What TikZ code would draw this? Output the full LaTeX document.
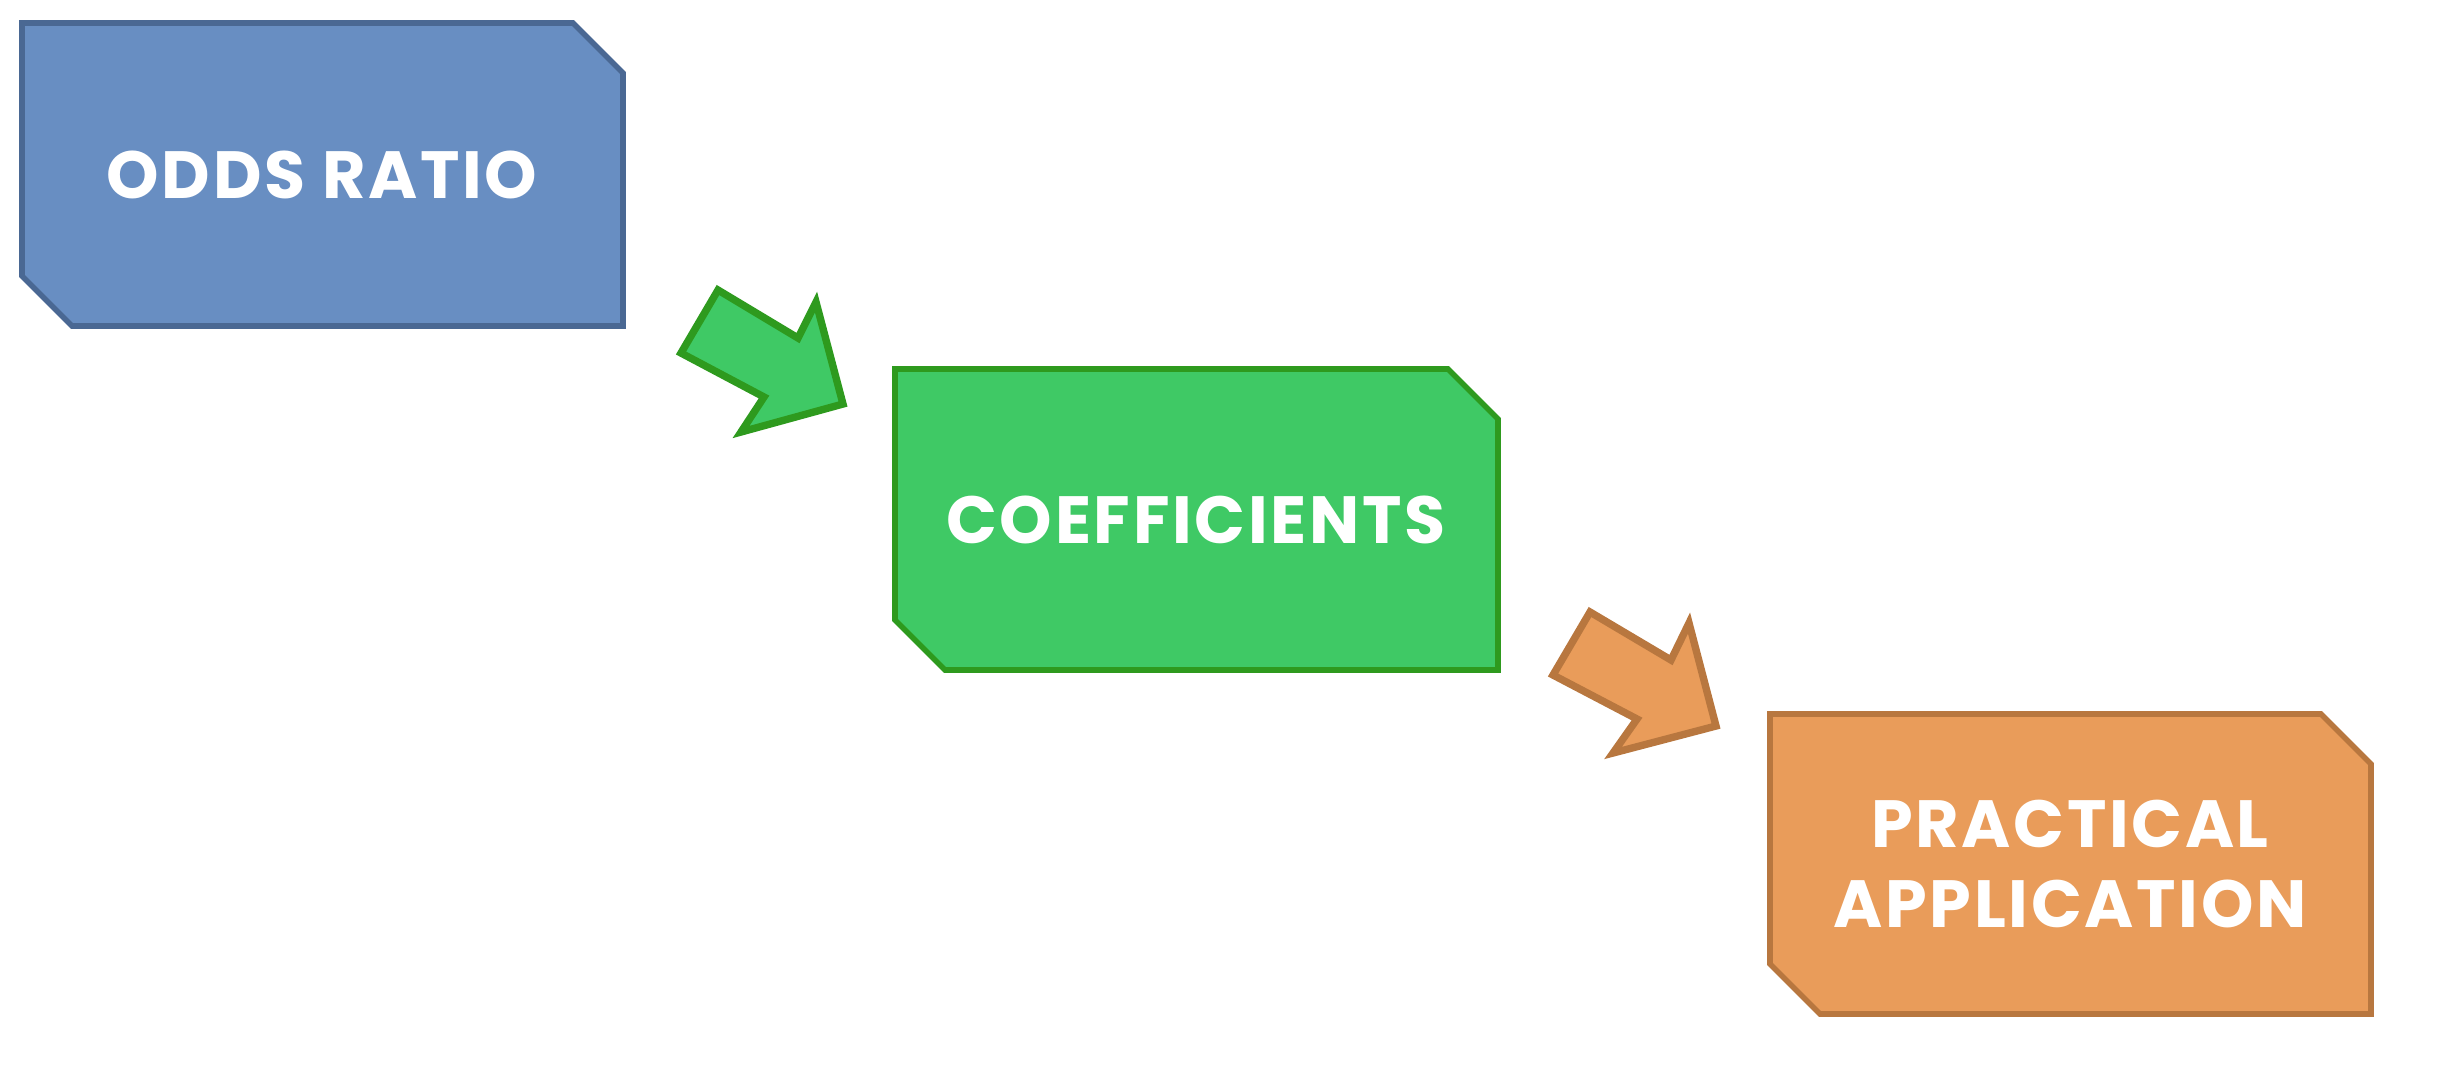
\documentclass[tikz,border=0pt]{standalone}
\usepackage{fontspec}
\newfontfamily\popfont[LetterSpace=4]{Poppins}
\definecolor{bfill}{HTML}{688EC2}
\definecolor{bline}{HTML}{4A6893}
\definecolor{gfill}{HTML}{3FC965}
\definecolor{gline}{HTML}{2E9A1E}
\definecolor{ofill}{HTML}{E99C5A}
\definecolor{oline}{HTML}{B8773F}
\tikzset{
  boxlabel/.style={text=white, font=\popfont\bfseries\fontsize{19}{22.5}\selectfont, align=center},
  blockshape/.style={line width=1.6pt, line join=miter},
  arrowshape/.style={line width=2.1pt, line join=miter},
}
\begin{document}
\begin{tikzpicture}[x=0.1mm,y=-0.1mm]
\useasboundingbox (0,0) rectangle (2454,1086);
% boxes
\draw[blockshape, fill=bfill, draw=bline] (22,23) -- (573,23) -- (623,73) -- (623,326) -- (72,326) -- (22,276) -- cycle;
\draw[blockshape, fill=gfill, draw=gline] (895,369) -- (1448,369) -- (1498,419) -- (1498,670) -- (945,670) -- (895,620) -- cycle;
\draw[blockshape, fill=ofill, draw=oline] (1770,714) -- (2321,714) -- (2371,764) -- (2371,1014) -- (1820,1014) -- (1770,964) -- cycle;
% arrows
\draw[arrowshape, fill=gfill, draw=gline] (681,353) -- (718,290) -- (798,338) -- (816,302) -- (843,404) -- (741,432) -- (764,397) -- cycle;
\draw[arrowshape, fill=ofill, draw=oline] (1553,675) -- (1590,612) -- (1671,660) -- (1689,623) -- (1716,726) -- (1613,753) -- (1637,719) -- cycle;
% labels
\node[boxlabel] (odds) at (322,175) {ODDS RATIO};
\node[boxlabel] (coef) at (1196,520) {COEFFICIENTS};
\node[boxlabel] (prac) at (2070,864) {PRACTICAL\\APPLICATION};
\end{tikzpicture}
\end{document}
